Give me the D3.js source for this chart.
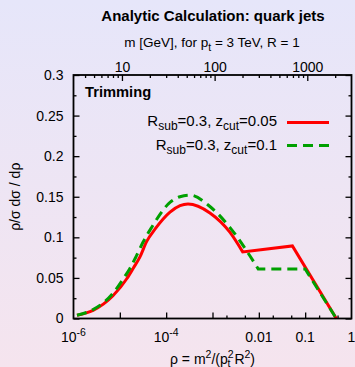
<!DOCTYPE html>
<html>
<head>
<meta charset="utf-8">
<script src="https://cdn.jsdelivr.net/npm/d3@7"></script>
<style>
  body { margin: 0; }
  svg { display: block; font-family: "Liberation Sans", Arial, sans-serif; }
  .axis path.domain { display: none; }
  .axis line { stroke: #000; stroke-width: 1.3; }
</style>
</head>
<body>
<div id="chart"></div>
<script>
// rho = m^2/(pt^2 R^2)
var redRho   = [1.19e-6, 2.64e-6, 7.1e-6, 1.41e-5, 1.95e-5, 2.72e-5, 3.8e-5, 5.74e-5, 1.21e-4, 1.99e-4, 2.96e-4, 8.8e-4, 2.39e-3, 4.49e-3];
var redVal   = [0.004, 0.010, 0.028, 0.049, 0.062, 0.076, 0.095, 0.110, 0.131, 0.139, 0.141, 0.130, 0.106, 0.082];
var redTailRho = [4.49e-3, 0.053, 0.47];
var redTailVal = [0.082, 0.0894, 0];

var greenRho = [1.19e-6, 2.64e-6, 7.1e-6, 1.19e-5, 1.66e-5, 2.23e-5, 3.16e-5, 4.71e-5, 1.21e-4, 1.99e-4, 3.27e-4, 8.8e-4, 2.39e-3, 6.45e-3, 9.7e-3];
var greenVal = [0.004, 0.011, 0.031, 0.049, 0.062, 0.076, 0.094, 0.111, 0.143, 0.150, 0.152, 0.138, 0.112, 0.077, 0.061];
var greenTailRho = [9.7e-3, 0.1, 0.47];
var greenTailVal = [0.061, 0.061, 0];

var yMajor = [0, 0.05, 0.1, 0.15, 0.2, 0.25, 0.3];
var yMinor = [0.025, 0.075, 0.125, 0.175, 0.225, 0.275];
var xMajor = [1e-5, 1e-4, 1e-3, 0.01, 0.1];
var xMinor = [2e-3, 5e-3, 2e-2, 5e-2, 0.2, 0.5];
var xLabels = [1e-6, 1e-4, 0.01, 0.1, 1];
var mMajor = [10, 100, 1000];
var mMinor = [4, 5, 6, 7, 8, 9, 20, 30, 40, 50, 60, 70, 80, 90, 200, 300, 400, 500, 600, 700, 800, 900, 2000];

var width = 355, height = 367;
var pLeft = 73.5, pRight = 351.5, pTop = 75, pBottom = 318.5;

var svg = d3.select("#chart").append("svg")
    .attr("width", width)
    .attr("height", height);

var grad = svg.append("defs").append("linearGradient")
    .attr("id", "bg").attr("x1", 0).attr("y1", 0).attr("x2", 0).attr("y2", 1);
grad.append("stop").attr("offset", "0%").attr("stop-color", "#e6e6fa");
grad.append("stop").attr("offset", "100%").attr("stop-color", "#f5e4ee");
svg.append("rect").attr("width", width).attr("height", height).attr("fill", "url(#bg)");

var x = d3.scaleLog().domain([1e-6, 1]).range([pLeft, pRight]);
var xm = d3.scaleLog().domain([3, 3000]).range([pLeft, pRight]);
var y = d3.scaleLinear().domain([0, 0.3]).range([pBottom, pTop]);

// ticks (inward)
svg.append("g").attr("class", "axis")
    .attr("transform", "translate(0," + pBottom + ")")
    .call(d3.axisBottom(x).tickValues(xMajor).tickSize(-6).tickSizeOuter(0).tickFormat(""));
svg.append("g").attr("class", "axis")
    .attr("transform", "translate(0," + pBottom + ")")
    .call(d3.axisBottom(x).tickValues(xMinor).tickSize(-3).tickSizeOuter(0).tickFormat(""));

svg.append("g").attr("class", "axis")
    .attr("transform", "translate(0," + pTop + ")")
    .call(d3.axisTop(xm).tickValues(mMajor).tickSize(-6).tickSizeOuter(0).tickPadding(3.5)
        .tickFormat(d3.format("d")))
    .selectAll("text").attr("font-size", 14).attr("fill", "#000");
svg.append("g").attr("class", "axis")
    .attr("transform", "translate(0," + pTop + ")")
    .call(d3.axisTop(xm).tickValues(mMinor).tickSize(-3).tickSizeOuter(0).tickFormat(""));

svg.append("g").attr("class", "axis")
    .attr("transform", "translate(" + pLeft + ",0)")
    .call(d3.axisLeft(y).tickValues(yMajor).tickSize(-6).tickSizeOuter(0).tickPadding(10)
        .tickFormat(function(d) { return d === 0 ? "0" : d3.format("~g")(d); }))
    .selectAll("text").attr("font-size", 14).attr("fill", "#000");
svg.append("g").attr("class", "axis")
    .attr("transform", "translate(" + pLeft + ",0)")
    .call(d3.axisLeft(y).tickValues(yMinor).tickSize(-3).tickSizeOuter(0).tickFormat(""));
svg.append("g").attr("class", "axis")
    .attr("transform", "translate(" + pRight + ",0)")
    .call(d3.axisRight(y).tickValues(yMajor).tickSize(-6).tickSizeOuter(0).tickFormat(""));
svg.append("g").attr("class", "axis")
    .attr("transform", "translate(" + pRight + ",0)")
    .call(d3.axisRight(y).tickValues(yMinor).tickSize(-3).tickSizeOuter(0).tickFormat(""));

// bottom labels with powers of ten
xLabels.forEach(function(v) {
    var t = svg.append("text")
        .attr("x", x(v)).attr("y", 341.5)
        .attr("text-anchor", "middle")
        .attr("font-size", 14);
    if (v < 1e-3) {
        t.append("tspan").text("10");
        t.append("tspan").attr("font-size", 10.5).attr("dy", -6)
            .text(String(Math.round(Math.log10(v))));
    } else {
        t.text(d3.format("~g")(v));
    }
});

// curves
function curvePath(rho, val, tailRho, tailVal) {
    var pts = rho.map(function(r, i) { return [x(r), y(val[i])]; });
    var d = d3.line().curve(d3.curveMonotoneX)(pts);
    for (var i = 1; i < tailRho.length; i++) {
        d += "L" + x(tailRho[i]) + "," + y(tailVal[i]);
    }
    return d;
}

var plot = svg.append("g");
plot.append("path")
    .attr("d", curvePath(redRho, redVal, redTailRho, redTailVal))
    .attr("fill", "none").attr("stroke", "#ff0000").attr("stroke-width", 3)
    .attr("stroke-linejoin", "miter");
plot.append("path")
    .attr("d", curvePath(greenRho, greenVal, greenTailRho, greenTailVal))
    .attr("fill", "none").attr("stroke", "#00a000").attr("stroke-width", 3)
    .attr("stroke-dasharray", "10,6");

// frame
svg.append("rect")
    .attr("x", pLeft).attr("y", pTop)
    .attr("width", pRight - pLeft).attr("height", pBottom - pTop)
    .attr("fill", "none").attr("stroke", "#000").attr("stroke-width", 1.8);

// legend
svg.append("text").attr("x", 85).attr("y", 97)
    .attr("font-size", 14.7).attr("font-weight", "bold").text("Trimming");

function legendLabel(yPos, zcut) {
    var t = svg.append("text").attr("x", 277).attr("y", yPos)
        .attr("text-anchor", "end").attr("font-size", 15);
    t.append("tspan").text("R");
    t.append("tspan").attr("font-size", 12).attr("dy", 4).text("sub");
    t.append("tspan").attr("dy", -4).text("=0.3, z");
    t.append("tspan").attr("font-size", 12).attr("dy", 4).text("cut");
    t.append("tspan").attr("dy", -4).text("=" + zcut);
}
legendLabel(126, "0.05");
legendLabel(149.5, "0.1");
svg.append("line").attr("x1", 287).attr("x2", 329).attr("y1", 122.5).attr("y2", 122.5)
    .attr("stroke", "#ff0000").attr("stroke-width", 3);
svg.append("line").attr("x1", 287).attr("x2", 329).attr("y1", 145.5).attr("y2", 145.5)
    .attr("stroke", "#00a000").attr("stroke-width", 3).attr("stroke-dasharray", "10,6");

// titles
svg.append("text").attr("x", 213).attr("y", 21)
    .attr("text-anchor", "middle").attr("font-size", 15).attr("font-weight", "bold")
    .text("Analytic Calculation: quark jets");

var sub = svg.append("text").attr("x", 212).attr("y", 46.5)
    .attr("text-anchor", "middle").attr("font-size", 13.5);
sub.append("tspan").text("m [GeV], for p");
sub.append("tspan").attr("font-size", 10.5).attr("dy", 4).text("t");
sub.append("tspan").attr("dy", -4).text(" = 3 TeV, R = 1");

var xt = svg.append("text").attr("x", 212.5).attr("y", 364)
    .attr("text-anchor", "middle").attr("font-size", 14);
xt.append("tspan").text("\u03c1 = m");
xt.append("tspan").attr("font-size", 10.5).attr("dy", -6).text("2");
xt.append("tspan").attr("dy", 6).text("/(p");
xt.append("tspan").attr("font-size", 10.5).attr("dy", -6).text("2");
xt.append("tspan").attr("font-size", 10.5).attr("dx", -6).attr("dy", 9).text("t");
xt.append("tspan").attr("dy", -3).text(" R");
xt.append("tspan").attr("font-size", 10.5).attr("dy", -6).text("2");
xt.append("tspan").attr("dy", 6).text(")");

svg.append("text")
    .attr("transform", "translate(20," + ((pTop + pBottom) / 2) + ") rotate(-90)")
    .attr("text-anchor", "middle").attr("font-size", 14)
    .text("\u03c1/\u03c3 d\u03c3 / d\u03c1");
</script>
</body>
</html>
